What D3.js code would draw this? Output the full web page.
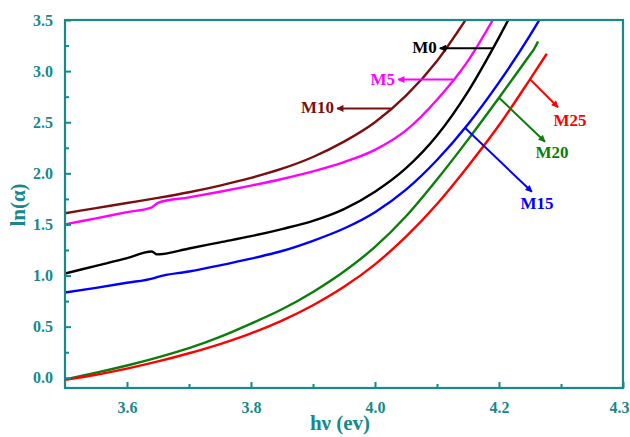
<!DOCTYPE html>
<html>
<head>
<meta charset="utf-8">
<script src="https://cdn.jsdelivr.net/npm/d3@7/dist/d3.min.js"></script>
<style>
  html, body { margin: 0; padding: 0; background: #ffffff; }
  svg { display: block; }
  text { font-family: "Liberation Serif", "Times New Roman", serif; font-weight: bold; }
</style>
</head>
<body>
<svg id="chart" width="630" height="437"></svg>
<script>
// Absorption edge: ln(alpha) versus photon energy for six samples
const hv_M0  = [3.5, 3.55, 3.6, 3.64, 3.648, 3.7, 3.75, 3.8, 3.85, 3.9, 3.95, 4.0, 4.05, 4.1, 4.15, 4.2, 4.215];
const ln_M0  = [1.02, 1.095, 1.17, 1.235, 1.207, 1.265, 1.325, 1.385, 1.455, 1.535, 1.65, 1.82, 2.05, 2.37, 2.80, 3.33, 3.5];

const hv_M5  = [3.5, 3.55, 3.6, 3.64, 3.65, 3.7, 3.75, 3.8, 3.85, 3.9, 3.95, 4.0, 4.05, 4.1, 4.15, 4.19];
const ln_M5  = [1.50, 1.56, 1.62, 1.668, 1.712, 1.765, 1.82, 1.88, 1.945, 2.02, 2.11, 2.23, 2.42, 2.72, 3.10, 3.5];

const hv_M10 = [3.5, 3.55, 3.6, 3.65, 3.7, 3.75, 3.8, 3.85, 3.9, 3.95, 4.0, 4.05, 4.1, 4.146];
const ln_M10 = [1.61, 1.66, 1.71, 1.76, 1.815, 1.88, 1.955, 2.045, 2.16, 2.31, 2.50, 2.76, 3.10, 3.5];

const hv_M15 = [3.5, 3.55, 3.6, 3.642, 3.65, 3.7, 3.75, 3.8, 3.85, 3.9, 3.95, 4.0, 4.05, 4.1, 4.15, 4.2, 4.25, 4.265];
const ln_M15 = [0.834, 0.88, 0.93, 0.973, 0.988, 1.04, 1.10, 1.165, 1.24, 1.34, 1.46, 1.62, 1.84, 2.13, 2.48, 2.89, 3.35, 3.5];

const hv_M20 = [3.5, 3.55, 3.6, 3.65, 3.7, 3.75, 3.8, 3.85, 3.9, 3.95, 4.0, 4.05, 4.1, 4.15, 4.2, 4.25, 4.256, 4.263];
const ln_M20 = [-0.016, 0.05, 0.12, 0.20, 0.29, 0.40, 0.53, 0.67, 0.84, 1.04, 1.28, 1.58, 1.94, 2.33, 2.74, 3.16, 3.21, 3.29];

const hv_M25 = [3.5, 3.55, 3.6, 3.65, 3.7, 3.75, 3.8, 3.85, 3.9, 3.95, 4.0, 4.05, 4.1, 4.15, 4.2, 4.25, 4.277];
const ln_M25 = [-0.02, 0.03, 0.09, 0.16, 0.24, 0.33, 0.435, 0.56, 0.71, 0.89, 1.11, 1.38, 1.70, 2.07, 2.47, 2.92, 3.17];

const sampleNames  = ["M0", "M5", "M10", "M15", "M20", "M25"];
const sampleColors = ["#000000", "#ff00ff", "#7b0f0f", "#0000ff", "#0a7d0a", "#ff0000"];

const xTickValues = [3.6, 3.8, 4.0, 4.2, 4.4];
const xTickLabels = ["3.6", "3.8", "4.0", "4.2", "4.3"];
const xMinorTicks = [3.7, 3.9, 4.1, 4.3];
const yTickValues = [0.0, 0.5, 1.0, 1.5, 2.0, 2.5, 3.0, 3.5];
const yTickLabels = ["0.0", "0.5", "1.0", "1.5", "2.0", "2.5", "3.0", "3.5"];
const yMinorTicks = [0.25, 0.75, 1.25, 1.75, 2.25, 2.75, 3.25];

// Label callouts: curve energy where each leader starts
const calloutAnchors = [4.19, 4.126, 4.026, 4.145, 4.2, 4.25];

const seriesHv = [hv_M0, hv_M5, hv_M10, hv_M15, hv_M20, hv_M25];
const seriesLn = [ln_M0, ln_M5, ln_M10, ln_M15, ln_M20, ln_M25];

const axisColor = "#17898a";
const svg = d3.select("#chart");
const plotLeft = 65, plotRight = 623, plotTop = 20, plotBottom = 388;

const x = d3.scaleLinear().domain([3.5, 4.4]).range([plotLeft, plotRight]);
const y = d3.scaleLinear().domain([-0.1, 3.5]).range([plotBottom, plotTop]);

// arrowhead markers, one per colour
const defs = svg.append("defs");
sampleColors.forEach((c, i) => {
  defs.append("marker")
    .attr("id", "arrow" + i)
    .attr("viewBox", "0 0 10 10")
    .attr("refX", 9).attr("refY", 5)
    .attr("markerWidth", 9).attr("markerHeight", 7)
    .attr("markerUnits", "userSpaceOnUse")
    .attr("orient", "auto")
    .append("path").attr("d", "M0,0 L10,5 L0,10 Z").attr("fill", c);
});
defs.append("clipPath").attr("id", "plotClip")
  .append("rect").attr("x", plotLeft).attr("y", plotTop)
  .attr("width", plotRight - plotLeft).attr("height", plotBottom - plotTop);

// curves
const line = d3.line()
  .x(d => x(d[0]))
  .y(d => y(d[1]))
  .curve(d3.curveMonotoneX);

const curves = svg.append("g").attr("clip-path", "url(#plotClip)");
seriesHv.forEach((hv, i) => {
  const pts = hv.map((v, k) => [v, seriesLn[i][k]]);
  curves.append("path")
    .datum(pts)
    .attr("d", line)
    .attr("fill", "none")
    .attr("stroke", sampleColors[i])
    .attr("stroke-width", 2.4)
    .attr("stroke-linejoin", "round");
});

// axes: ticks point inward
const xAxis = d3.axisBottom(x)
  .tickValues(xTickValues)
  .tickFormat((d, i) => xTickLabels[i])
  .tickSizeInner(-6).tickSizeOuter(0).tickPadding(14);
const gx = svg.append("g").attr("transform", `translate(0,${plotBottom})`).call(xAxis);

const gxMinor = svg.append("g").attr("transform", `translate(0,${plotBottom})`)
  .call(d3.axisBottom(x).tickValues(xMinorTicks).tickFormat("").tickSizeInner(-4).tickSizeOuter(0));

const yAxis = d3.axisLeft(y)
  .tickValues(yTickValues)
  .tickFormat((d, i) => yTickLabels[i])
  .tickSizeInner(-6).tickSizeOuter(0).tickPadding(12);
const gy = svg.append("g").attr("transform", `translate(${plotLeft},0)`).call(yAxis);

const gyMinor = svg.append("g").attr("transform", `translate(${plotLeft},0)`)
  .call(d3.axisLeft(y).tickValues(yMinorTicks).tickFormat("").tickSizeInner(-4).tickSizeOuter(0));

[gx, gxMinor, gy, gyMinor].forEach(g => {
  g.select(".domain").remove();
  g.selectAll("line").attr("stroke", axisColor).attr("stroke-width", 2);
  g.selectAll("text")
    .attr("fill", axisColor)
    .style("font-family", "'Liberation Serif', serif")
    .style("font-weight", "bold")
    .style("font-size", "16px");
});
// last x label sits at the right edge of the frame
gx.selectAll(".tick text").filter((d, i) => i === xTickValues.length - 1)
  .attr("text-anchor", "end").attr("dx", 6);

// frame
svg.append("rect")
  .attr("x", plotLeft).attr("y", plotTop)
  .attr("width", plotRight - plotLeft).attr("height", plotBottom - plotTop)
  .attr("fill", "none").attr("stroke", axisColor).attr("stroke-width", 2.2);

// axis titles
svg.append("text")
  .attr("x", 340).attr("y", 430)
  .attr("text-anchor", "middle")
  .attr("fill", axisColor)
  .style("font-size", "21px")
  .text("hν (ev)");

svg.append("text")
  .attr("transform", "translate(25,205) rotate(-90)")
  .attr("text-anchor", "middle")
  .attr("fill", axisColor)
  .style("font-size", "21px")
  .text("ln(α)");

// callouts
function lnAt(i, v) {
  return d3.scaleLinear().domain(seriesHv[i]).range(seriesLn[i])(v);
}
// arrow tip offset from the curve anchor, label offset from the tip
const calloutLayout = [
  { dx: -53, dy: 0,  tx: -3,  ty: 5,  anchor: "end" },
  { dx: -55, dy: 0,  tx: -3,  ty: 5,  anchor: "end" },
  { dx: -54, dy: 0,  tx: -3,  ty: 5,  anchor: "end" },
  { dx: 67,  dy: 64, tx: 5,   ty: 17, anchor: "middle" },
  { dx: 46,  dy: 44, tx: 7,   ty: 16, anchor: "middle" },
  { dx: 28,  dy: 28, tx: 12,  ty: 19, anchor: "middle" }
];

const notes = svg.append("g");
sampleNames.forEach((name, i) => {
  const ax = x(calloutAnchors[i]);
  const ay = y(lnAt(i, calloutAnchors[i]));
  const L = calloutLayout[i];
  const tx = ax + L.dx, ty = ay + L.dy;
  notes.append("line")
    .attr("x1", ax).attr("y1", ay).attr("x2", tx).attr("y2", ty)
    .attr("stroke", sampleColors[i]).attr("stroke-width", 2)
    .attr("marker-end", `url(#arrow${i})`);
  notes.append("text")
    .attr("x", tx + L.tx).attr("y", ty + L.ty)
    .attr("text-anchor", L.anchor)
    .attr("fill", sampleColors[i])
    .style("font-size", "17px")
    .text(name);
});
</script>
</body>
</html>
